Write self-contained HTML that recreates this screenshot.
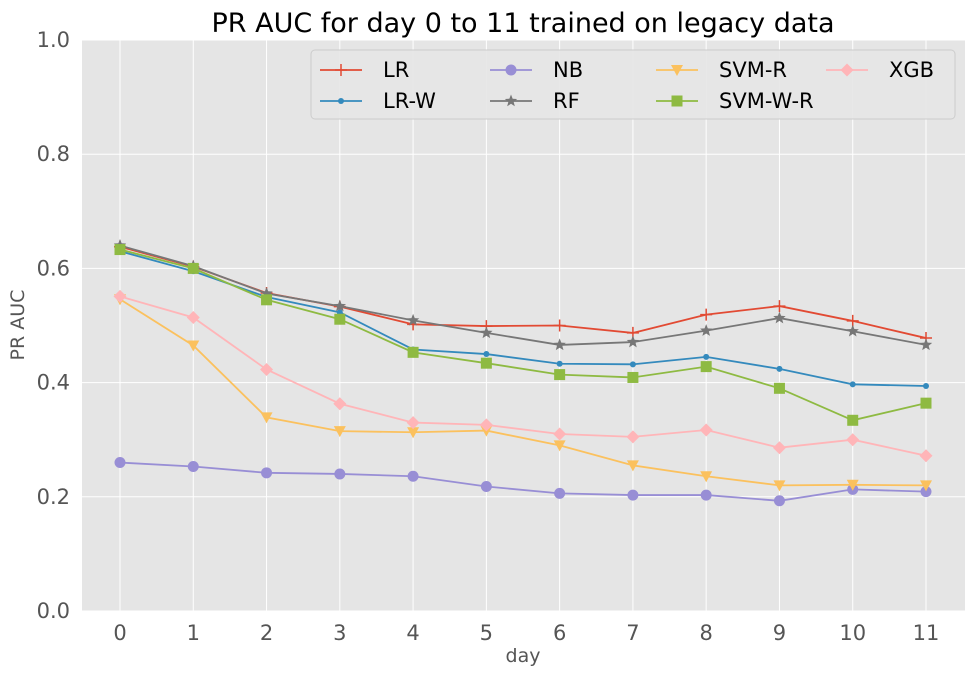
<!DOCTYPE html>
<html><head><meta charset="utf-8"><style>
body{margin:0;background:#fff;}
svg{display:block;font-family:"DejaVu Sans","Liberation Sans",sans-serif;}
</style></head><body>
<svg id="chart" width="975" height="675" xmlns="http://www.w3.org/2000/svg">
<rect x="82" y="40" width="883" height="571" fill="#E5E5E5"/>
<g id="grid"></g>
<g id="ticks"></g>
<g id="series"></g>
<text x="523" y="32" text-anchor="middle" font-size="27" fill="#000">PR AUC for day 0 to 11 trained on legacy data</text>
<text transform="translate(24,325) rotate(-90)" text-anchor="middle" font-size="19" fill="#555">PR AUC</text>
<text x="523" y="662" text-anchor="middle" font-size="19" fill="#555">day</text>
<g id="legend"></g>
</svg>
<script>
const days=[0,1,2,3,4,5,6,7,8,9,10,11];
const yTicks=[0.0,0.2,0.4,0.6,0.8,1.0];
const yTickLabels=["0.0","0.2","0.4","0.6","0.8","1.0"];
const seriesNames=["LR","LR-W","NB","RF","SVM-R","SVM-W-R","XGB"];
const lrValues=[0.638,0.603,0.557,0.533,0.502,0.499,0.500,0.487,0.519,0.534,0.508,0.478];
const lrwValues=[0.630,0.595,0.550,0.523,0.458,0.450,0.433,0.432,0.445,0.424,0.397,0.394];
const nbValues=[0.260,0.253,0.242,0.240,0.236,0.218,0.206,0.203,0.203,0.193,0.213,0.209];
const rfValues=[0.640,0.604,0.556,0.534,0.509,0.487,0.466,0.471,0.491,0.513,0.490,0.466];
const svmrValues=[0.546,0.465,0.339,0.315,0.313,0.316,0.290,0.255,0.236,0.220,0.221,0.220];
const svmwrValues=[0.633,0.600,0.545,0.511,0.453,0.434,0.414,0.409,0.428,0.390,0.334,0.364];
const xgbValues=[0.551,0.514,0.423,0.363,0.330,0.326,0.310,0.305,0.317,0.286,0.300,0.272];
const allValues=[lrValues,lrwValues,nbValues,rfValues,svmrValues,svmwrValues,xgbValues];
const colors=["#E24A33","#348ABD","#988ED5","#777777","#FBC15E","#8EBA42","#FFB5B8"];
const markers=["plus","dot","circle","star","tri","square","diamond"];
const NS="http://www.w3.org/2000/svg";
const xS=d=>120+d*(926-120)/11;
const yS=v=>611-v*571;
function mk(t,a,p){const e=document.createElementNS(NS,t);for(const k in a)e.setAttribute(k,a[k]);p.appendChild(e);return e;}
const grid=document.getElementById('grid'),ticks=document.getElementById('ticks');
yTicks.forEach((v,i)=>{
  const l=mk('line',{x1:82,x2:965,y1:yS(v),y2:yS(v),stroke:'#fff','stroke-width':1},grid);
  
  
  const t=mk('text',{x:70,y:yS(v)+7,'text-anchor':'end','font-size':21,fill:'#555'},ticks);
  t.textContent=yTickLabels[i];
  
  
});
days.forEach(d=>{
  const l=mk('line',{x1:xS(d),x2:xS(d),y1:40,y2:611,stroke:'#fff','stroke-width':1},grid);
  
  
  const t=mk('text',{x:xS(d),y:640,'text-anchor':'middle','font-size':21,fill:'#555'},ticks);
  t.textContent=String(d);
  
  
});
function marker(type,x,y,c,p){
  let e;
  if(type==='plus')e=mk('path',{d:`M${x-6},${y}H${x+6}M${x},${y-6}V${y+6}`,stroke:c,'stroke-width':1.5,fill:'none'},p);
  else if(type==='dot')e=mk('circle',{cx:x,cy:y,r:3,fill:c},p);
  else if(type==='circle')e=mk('circle',{cx:x,cy:y,r:5.5,fill:c},p);
  else if(type==='square')e=mk('rect',{x:x-5.5,y:y-5.5,width:11,height:11,fill:c},p);
  else if(type==='diamond')e=mk('path',{d:`M${x},${y-6.5}L${x+6.5},${y}L${x},${y+6.5}L${x-6.5},${y}Z`,fill:c},p);
  else if(type==='tri')e=mk('path',{d:`M${x-6},${y-5}L${x+6},${y-5}L${x},${y+6}Z`,fill:c},p);
  else{let s='';for(let i=0;i<10;i++){const r=i%2?2.8:6.5,a=-Math.PI/2+i*Math.PI/5;s+=(i?'L':'M')+(x+r*Math.cos(a)).toFixed(2)+','+(y+r*Math.sin(a)).toFixed(2);}e=mk('path',{d:s+'Z',fill:c},p);}
  return e;
}
const sg=document.getElementById('series');
allValues.forEach((vals,i)=>{
  const g=mk('g',{},sg);
  
  
  const pl=mk('polyline',{points:vals.map((v,j)=>xS(days[j])+','+yS(v)).join(' '),fill:'none',stroke:colors[i],'stroke-width':1.8},g);
  
  
  vals.forEach((v,j)=>{
    const m=marker(markers[i],xS(days[j]),yS(v),colors[i],g);
    
    
  });
});
const lg=document.getElementById('legend');
const box=mk('rect',{x:311,y:50,width:644,height:69,rx:4,fill:'#E5E5E5',stroke:'#ccc','stroke-width':1,'fill-opacity':0.9},lg);


const colX=[320,490,656,826];
seriesNames.forEach((n,i)=>{
  const col=Math.floor(i/2),row=i%2;
  const x0=colX[col],y0=row?101:70;
  const g=mk('g',{},lg);
  
  
  mk('line',{x1:x0,x2:x0+42,y1:y0,y2:y0,stroke:colors[i],'stroke-width':1.8},g);
  marker(markers[i],x0+21,y0,colors[i],g);
  const t=mk('text',{x:x0+63,y:y0+7,'font-size':21,fill:'#000'},g);
  t.textContent=n;
});
</script>
</body></html>
